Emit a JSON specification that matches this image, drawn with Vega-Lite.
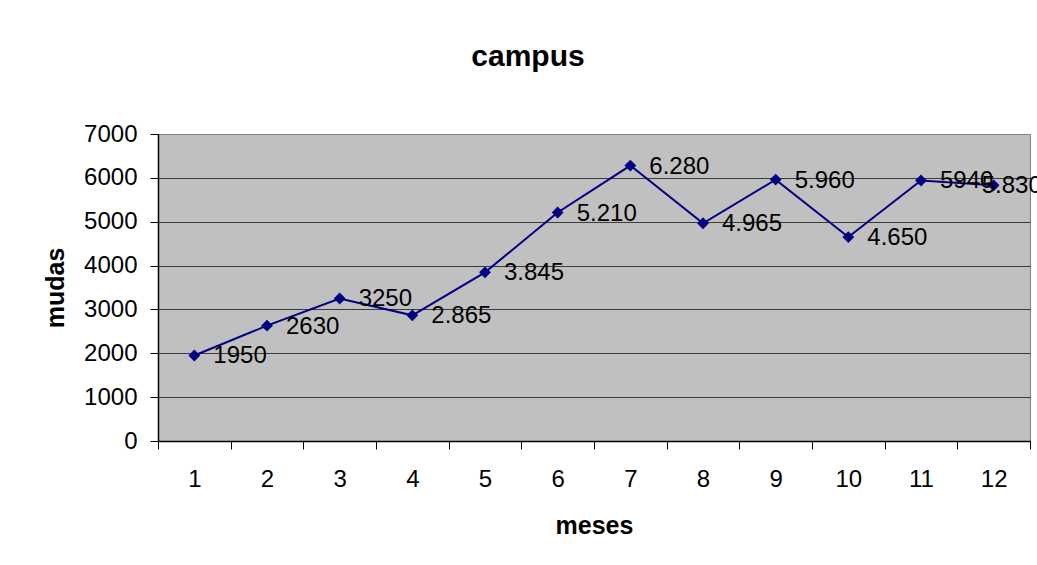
{
  "$schema": "https://vega.github.io/schema/vega-lite/v6.json",
  "width": 872,
  "height": 307,
  "autosize": {"type": "none"},
  "padding": {"left": 158, "top": 134, "right": 7, "bottom": 124},
  "background": "white",
  "title": {
    "text": "campus",
    "font": "Liberation Sans",
    "fontSize": 30,
    "fontWeight": "bold",
    "color": "#000000",
    "anchor": "middle",
    "frame": "group",
    "dx": -66,
    "baseline": "alphabetic",
    "offset": 26
  },
  "data": {
    "values": [
      {"mes": "1", "mudas": 1950, "rotulo": "1950"},
      {"mes": "2", "mudas": 2630, "rotulo": "2630"},
      {"mes": "3", "mudas": 3250, "rotulo": "3250"},
      {"mes": "4", "mudas": 2865, "rotulo": "2.865"},
      {"mes": "5", "mudas": 3845, "rotulo": "3.845"},
      {"mes": "6", "mudas": 5210, "rotulo": "5.210"},
      {"mes": "7", "mudas": 6280, "rotulo": "6.280"},
      {"mes": "8", "mudas": 4965, "rotulo": "4.965"},
      {"mes": "9", "mudas": 5960, "rotulo": "5.960"},
      {"mes": "10", "mudas": 4650, "rotulo": "4.650"},
      {"mes": "11", "mudas": 5940, "rotulo": "5940"},
      {"mes": "12", "mudas": 5830, "rotulo": "5.830"}
    ]
  },
  "encoding": {
    "x": {
      "field": "mes",
      "type": "ordinal",
      "sort": null,
      "bandPosition": 0.5,
      "scale": {"type": "band", "paddingInner": 0, "paddingOuter": 0},
      "axis": {
        "title": "meses",
        "labelAngle": 0,
        "tickBand": "extent",
        "tickSize": 8,
        "tickColor": "#000000",
        "tickWidth": 1,
        "domainColor": "#000000",
        "domainWidth": 1.5,
        "labelPadding": 18,
        "grid": false,
        "titleY": 92,
        "titleBaseline": "alphabetic"
      }
    },
    "y": {
      "field": "mudas",
      "type": "quantitative",
      "scale": {"domain": [0, 7000], "nice": false},
      "axis": {
        "title": "mudas",
        "values": [0, 1000, 2000, 3000, 4000, 5000, 6000, 7000],
        "format": "d",
        "tickSize": 8,
        "tickColor": "#000000",
        "tickWidth": 1,
        "domainColor": "#000000",
        "domainWidth": 1.5,
        "labelPadding": 13,
        "grid": true,
        "gridColor": {"condition": {"test": "datum.value == 7000", "value": "#808080"}, "value": "#3a3a3a"},
        "gridWidth": 1,
        "titleAngle": -90,
        "titleX": -95,
        "titleY": 153.5,
        "titleAlign": "center",
        "titleBaseline": "alphabetic"
      }
    }
  },
  "layer": [
    {"mark": {"type": "line", "color": "#000080", "strokeWidth": 2}},
    {"mark": {"type": "point", "shape": "diamond", "filled": true, "color": "#000080", "opacity": 1, "size": 140}},
    {
      "transform": [{"filter": "datum.mes != '12'"}],
      "mark": {"type": "text", "align": "left", "baseline": "middle", "dx": 19, "dy": 1, "fontSize": 24, "font": "Liberation Sans", "color": "#000000"},
      "encoding": {"text": {"field": "rotulo"}}
    },
    {
      "transform": [{"filter": "datum.mes == '12'"}],
      "mark": {"type": "text", "align": "left", "baseline": "middle", "dx": -12, "dy": 1, "fontSize": 24, "font": "Liberation Sans", "color": "#000000"},
      "encoding": {"text": {"field": "rotulo"}}
    }
  ],
  "config": {
    "font": "Liberation Sans",
    "view": {"fill": "#C0C0C0", "stroke": "#808080", "strokeWidth": 1},
    "axis": {
      "labelFont": "Liberation Sans",
      "labelFontSize": 24,
      "labelColor": "#000000",
      "titleFont": "Liberation Sans",
      "titleFontSize": 25,
      "titleFontWeight": "bold",
      "titleColor": "#000000"
    }
  }
}
